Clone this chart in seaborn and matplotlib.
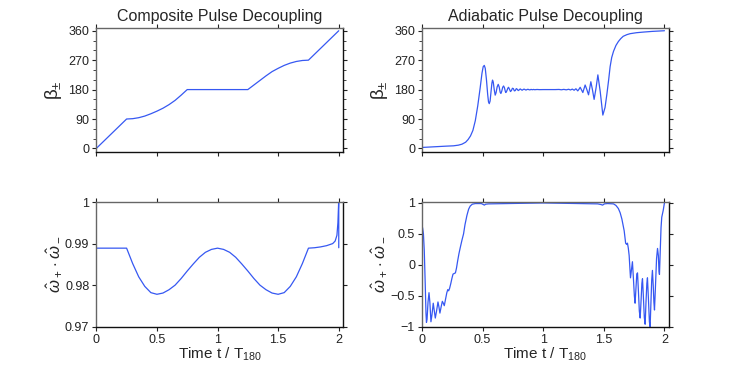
import numpy as np
import pandas as pd
import matplotlib
matplotlib.use('Agg')
from matplotlib import pyplot as plt
from matplotlib.ticker import MultipleLocator
import seaborn as sns

# Composite pulse: rotation angle beta (deg) vs time t / T180
comp_t = [0.0, 0.25, 0.30, 0.35, 0.40, 0.45, 0.50, 0.55, 0.60, 0.65, 0.70, 0.75,
          1.00, 1.25, 1.30, 1.35, 1.40, 1.45, 1.50, 1.55, 1.60, 1.65, 1.70, 1.75, 2.0]
comp_beta = [0, 90, 91, 94, 99, 106, 114, 123, 134, 147, 163, 180,
             180, 180, 194, 208, 222, 235, 245, 254, 261, 266, 269, 270, 360]

# Composite pulse: overlap w+ . w-
comp_w_t = [0.0, 0.25, 0.30, 0.35, 0.40, 0.45, 0.50, 0.55, 0.60, 0.65, 0.70, 0.75,
            0.80, 0.85, 0.90, 0.95, 1.00, 1.05, 1.10, 1.15, 1.20, 1.25, 1.30, 1.35,
            1.40, 1.45, 1.50, 1.55, 1.60, 1.65, 1.70, 1.75, 1.80, 1.85, 1.90, 1.95,
            1.97, 1.985, 1.993, 1.998, 2.0, 2.0]
comp_w = [0.9889, 0.9889, 0.9852, 0.9820, 0.9797, 0.9782, 0.9778, 0.9781, 0.9789,
          0.9800, 0.9816, 0.9834, 0.9851, 0.9867, 0.9879, 0.9886, 0.9889, 0.9886,
          0.9879, 0.9867, 0.9851, 0.9834, 0.9816, 0.9800, 0.9789, 0.9781, 0.9778,
          0.9782, 0.9797, 0.9820, 0.9852, 0.9889, 0.9890, 0.9892, 0.9895, 0.9900,
          0.9906, 0.9920, 0.9950, 0.9990, 1.0010, 0.9890]

# Adiabatic pulse: rotation angle beta (deg)
adia_t = [0.0, 0.10, 0.20, 0.26, 0.30, 0.33, 0.36, 0.38, 0.40, 0.42, 0.44, 0.46,
          0.48, 0.495, 0.505, 0.514, 0.522, 0.532, 0.542, 0.549, 0.555, 0.562,
          0.570, 0.577, 0.582, 0.588, 0.596, 0.604, 0.611, 0.620, 0.629, 0.637,
          0.645, 0.651, 0.658, 0.666, 0.673, 0.680, 0.688, 0.692, 0.700, 0.708,
          0.714, 0.722, 0.730, 0.738, 0.746, 0.754, 0.762, 0.770, 0.778, 0.786,
          0.794, 0.802, 0.810, 0.818, 0.826, 0.834, 0.842, 0.850, 0.858, 0.866,
          0.874, 0.882, 0.890, 0.900, 0.910, 0.920, 0.930, 0.950, 0.970, 1.00,
          1.05, 1.10, 1.13, 1.15, 1.17, 1.19, 1.21, 1.225, 1.24, 1.255, 1.27,
          1.285, 1.295, 1.305, 1.316, 1.327, 1.336, 1.346, 1.360, 1.374, 1.383,
          1.393, 1.406, 1.420, 1.436, 1.451, 1.470, 1.492, 1.510, 1.525, 1.540,
          1.552, 1.565, 1.580, 1.600, 1.620, 1.640, 1.660, 1.690, 1.717, 1.770,
          1.830, 1.900, 2.0]
adia_beta = [3, 5, 7, 8, 10, 13, 19, 27, 38, 55, 85, 130,
             185, 230, 250, 254, 245, 210, 165, 142, 137, 145,
             175, 200, 209, 203, 180, 163, 170, 188, 196, 188,
             172, 168, 175, 187, 191, 186, 174, 171, 176, 184,
             187, 181, 174, 177, 184, 183, 176, 177, 183, 181,
             177, 179, 182, 180, 178, 180, 181.5, 180, 178.5, 180,
             181, 179.8, 179, 180.6, 179.5, 180.4, 179.6, 180.3, 179.8, 180,
             180, 180, 180.4, 179.4, 180.6, 179.2, 181, 178.8, 181.5, 178, 182.5,
             176, 181, 187, 179, 171, 182, 194, 180, 164, 183,
             204, 180, 150, 185, 225, 175, 102, 125, 165, 210,
             250, 278, 297, 315, 327, 336, 343, 348, 351, 354,
             356, 358, 360]

# Adiabatic pulse: overlap w+ . w-
adia_w_t = [0.0, 0.005, 0.012, 0.019, 0.027, 0.033, 0.037, 0.042, 0.050, 0.058,
            0.065, 0.074, 0.083, 0.093, 0.100, 0.110, 0.120, 0.132, 0.140, 0.148,
            0.158, 0.168, 0.176, 0.184, 0.195, 0.205, 0.213, 0.220, 0.228, 0.238,
            0.247, 0.256, 0.266, 0.276, 0.285, 0.294, 0.305, 0.316, 0.330, 0.343,
            0.355, 0.371, 0.385, 0.398, 0.415, 0.440, 0.490, 0.505, 0.515, 0.525,
            0.550, 0.700, 1.000, 1.300, 1.450, 1.475, 1.490, 1.505, 1.530, 1.580,
            1.600, 1.620, 1.635, 1.649, 1.668, 1.680, 1.688, 1.695, 1.702, 1.709,
            1.715, 1.720, 1.728, 1.736, 1.745, 1.752, 1.758, 1.766, 1.772, 1.778,
            1.786, 1.793, 1.800, 1.808, 1.814, 1.819, 1.826, 1.834, 1.841, 1.848,
            1.855, 1.860, 1.868, 1.876, 1.882, 1.888, 1.895, 1.901, 1.908, 1.913,
            1.918, 1.925, 1.935, 1.943, 1.950, 1.955, 1.959, 1.965, 1.972, 1.978,
            1.990, 2.0]
adia_w = [0.60, 0.60, 0.50, 0.23, -0.32, -0.78, -0.93, -0.88, -0.60, -0.45,
          -0.60, -0.92, -0.80, -0.62, -0.72, -0.86, -0.75, -0.60, -0.68, -0.78,
          -0.68, -0.59, -0.62, -0.66, -0.55, -0.45, -0.40, -0.42, -0.38, -0.30,
          -0.22, -0.15, -0.14, -0.13, -0.05, 0.06, 0.18, 0.28, 0.40, 0.50,
          0.65, 0.80, 0.90, 0.95, 0.98, 0.99, 0.99, 0.975, 0.965, 0.98,
          0.985, 0.99, 1.0, 0.99, 0.985, 0.975, 0.965, 0.985, 0.99, 0.985,
          0.96, 0.91, 0.84, 0.74, 0.55, 0.35, 0.33, 0.35, 0.27, 0.15,
          -0.05, -0.21, -0.08, 0.05, -0.25, -0.50, -0.62, -0.35, -0.15, -0.13,
          -0.45, -0.75, -0.86, -0.55, -0.30, -0.225, -0.50, -0.85, -0.96, -0.60,
          -0.30, -0.21, -0.55, -0.92, -1.00, -0.65, -0.25, -0.09, -0.35, -0.60,
          -0.73, -0.40, 0.10, 0.265, 0.15, -0.10, -0.155, 0.20, 0.60, 0.77,
          0.88, 1.0]

titles = ['Composite Pulse Decoupling', 'Adiabatic Pulse Decoupling']
xlabel = 'Time t / T$_{180}$'
beta_label = '\u03b2$_\u00b1$'
w_label = r'$\hat{\omega}_+ \cdot \hat{\omega}_-$'

sns.set_style('ticks')
plt.rcParams['font.family'] = ['Liberation Sans', 'DejaVu Sans']
plt.rcParams['mathtext.fontset'] = 'custom'
plt.rcParams['mathtext.rm'] = 'Liberation Sans'
plt.rcParams['mathtext.it'] = 'Liberation Sans:italic'

line_color = '#3658f2'

fig = plt.figure(figsize=(7.39, 3.70), dpi=100)
ax_tl = fig.add_axes([0.1303, 0.590, 0.334, 0.334])
ax_tr = fig.add_axes([0.5710, 0.590, 0.334, 0.334])
ax_bl = fig.add_axes([0.1303, 0.117, 0.334, 0.337])
ax_br = fig.add_axes([0.5710, 0.117, 0.334, 0.337])

panels = [
    (ax_tl, comp_t, comp_beta),
    (ax_tr, adia_t, adia_beta),
    (ax_bl, comp_w_t, comp_w),
    (ax_br, adia_w_t, adia_w),
]
for ax, t, y in panels:
    sns.lineplot(x=t, y=y, ax=ax, sort=False, estimator=None,
                 color=line_color, linewidth=0.9)
    ax.set_xlim(0, 2.036)
    ax.set_xticks([0, 0.5, 1, 1.5, 2])
    ax.tick_params(direction='out', length=3, width=0.8, top=True, right=True,
                   labelsize=9, pad=2, colors='#222222')
    for side in ['left', 'top']:
        ax.spines[side].set_color('#666666')
    for side in ['right', 'bottom']:
        ax.spines[side].set_color('#111111')
    for side in ax.spines:
        ax.spines[side].set_linewidth(1.0)

# top row: rotation angle
for ax, title in zip([ax_tl, ax_tr], titles):
    ax.set_ylim(-10, 368)
    ax.set_yticks([0, 90, 180, 270, 360])
    ax.yaxis.set_minor_locator(MultipleLocator(30))
    ax.tick_params(which='minor', direction='out', length=2, right=True)
    ax.tick_params(labelbottom=False)
    ax.set_ylabel(beta_label, fontsize=13.5, labelpad=3)
    ax.set_title(title, fontsize=11.5, pad=5)

# bottom row: overlap
ax_bl.set_ylim(0.97, 1.0)
ax_bl.set_yticks([0.97, 0.98, 0.99, 1.0])
ax_bl.set_yticklabels(['0.97', '0.98', '0.99', '1'])
ax_br.set_ylim(-1, 1.015)
ax_br.set_yticks([-1, -0.5, 0, 0.5, 1])
ax_br.set_yticklabels(['\u22121', '\u22120.5', '0', '0.5', '1'])
for ax in [ax_bl, ax_br]:
    ax.set_xticklabels(['0', '0.5', '1', '1.5', '2'])
    ax.set_ylabel(w_label, fontsize=12, labelpad=1)
    ax.set_xlabel(xlabel, fontsize=11, labelpad=0)

fig.savefig('out.png', dpi=100)
